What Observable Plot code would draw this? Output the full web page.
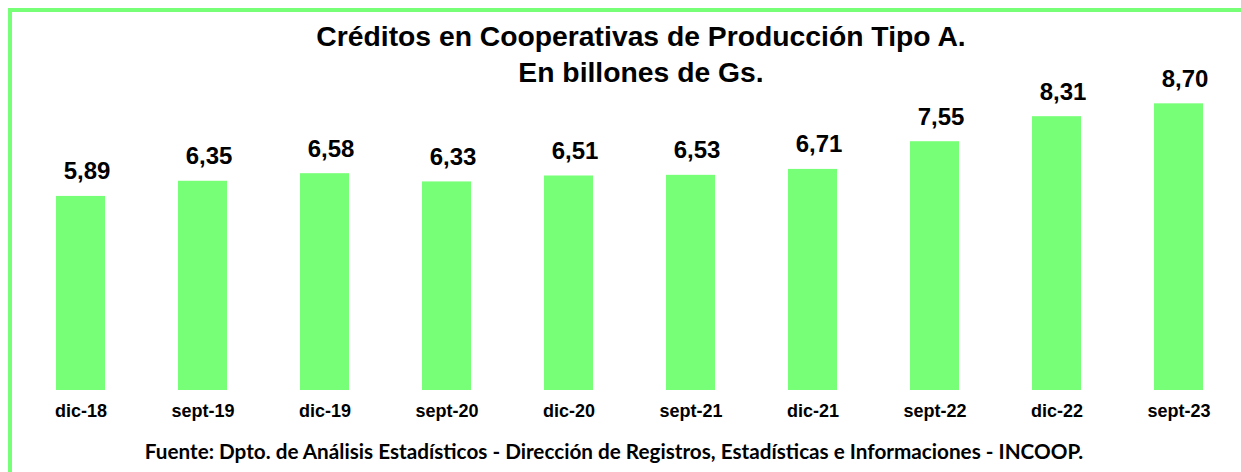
<!DOCTYPE html>
<html>
<head>
<meta charset="utf-8">
<script src="https://cdn.jsdelivr.net/npm/d3@7"></script>
<script src="https://cdn.jsdelivr.net/npm/@observablehq/plot@0.6"></script>
<style>
  html, body { margin: 0; padding: 0; background: #fff; }
  #page { position: relative; width: 1241px; height: 472px; overflow: hidden; background: #fff; }
  #frame { position: absolute; left: 8px; top: 8px; width: 1300px; height: 600px;
           border-top: 4px solid #77ff77; border-left: 4px solid #77ff77; box-sizing: border-box; }
  #title { position: absolute; left: 0; top: 18px; width: 1282px; text-align: center;
           font-family: "Liberation Sans", Arial, sans-serif; font-weight: bold; font-size: 28.3px;
           line-height: 36px; color: #000; z-index: 2; }
  #chart { position: absolute; left: 0; top: 60px; z-index: 1; }
  #caption { position: absolute; left: 0; top: 439px; width: 1228px; text-align: center;
             font-family: Lato, "Open Sans", sans-serif; font-weight: bold; font-size: 20.7px;
             color: #000; z-index: 2; white-space: nowrap; }
</style>
</head>
<body>
<div id="page">
  <div id="frame"></div>
  <div id="title">Créditos en Cooperativas de Producción Tipo A.<br>En billones de Gs.</div>
  <div id="chart"></div>
  <div id="caption">Fuente: Dpto. de Análisis Estadísticos - Dirección de Registros, Estadísticas e Informaciones - INCOOP.</div>
</div>
<script>
const periods = ["dic-18", "sept-19", "dic-19", "sept-20", "dic-20", "sept-21", "dic-21", "sept-22", "dic-22", "sept-23"];
const values = [5.89, 6.35, 6.58, 6.33, 6.51, 6.53, 6.71, 7.55, 8.31, 8.70];

const data = periods.map((p, i) => ({period: p, value: values[i]}));
const fmt = v => v.toFixed(2).replace(".", ",");

const chart = Plot.plot({
  width: 1241,
  height: 380,
  marginLeft: 16,
  marginRight: -1,
  marginTop: 33.45,
  marginBottom: 50,
  style: {background: "transparent", overflow: "visible"},
  x: {domain: periods, paddingInner: 0.6, paddingOuter: 0.3, label: null},
  y: {domain: [0, 9], axis: null},
  marks: [
    Plot.barY(data, {x: "period", y: "value", fill: "#77ff77"}),
    Plot.text(data, {x: "period", y: "value", text: d => fmt(d.value), lineAnchor: "bottom", dy: -17, dx: 6,
      fontSize: 24, fontWeight: "bold", fontFamily: "Liberation Sans, Arial, sans-serif", fill: "#000"}),
    Plot.axisX({tickSize: 0, tickPadding: 14, fontSize: 18, fontWeight: "bold",
      fontFamily: "Liberation Sans, Arial, sans-serif", fill: "#000", label: null})
  ]
});
document.getElementById("chart").appendChild(chart);
</script>
</body>
</html>
